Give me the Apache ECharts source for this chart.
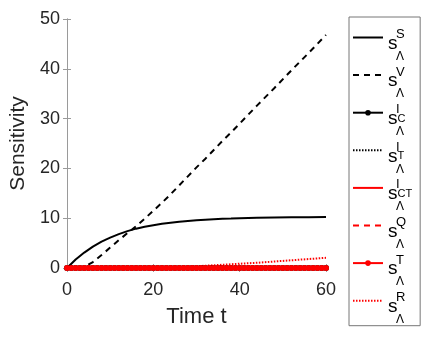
<!DOCTYPE html>
<html>
<head>
<meta charset="utf-8">
<script src="https://cdn.jsdelivr.net/npm/echarts@6/dist/echarts.min.js"></script>
<style>
  html, body { margin: 0; padding: 0; background: #fff; }
  #chart { width: 436px; height: 340px; }
</style>
</head>
<body>
<div id="chart"></div>
<script>
// time grid for the smooth curves
const tCoarse = [0, 2, 4, 6, 8, 10, 12, 14, 16, 18, 20, 22, 24, 26, 28, 30, 32, 34, 36, 38, 40, 44, 48, 52, 56, 60]
const sS = [0, 1.7, 3.1, 4.3, 5.3, 6.1, 6.8, 7.4, 7.9, 8.3, 8.6, 8.9, 9.1, 9.3, 9.45, 9.6, 9.7, 9.8, 9.87, 9.93, 10.0, 10.08, 10.14, 10.18, 10.21, 10.23]
const sV = [0, 0, 0.2, 1.2, 2.6, 4.1, 5.6, 7.0, 8.4, 9.9, 11.5, 13.1, 14.8, 16.6, 18.4, 20.2, 21.9, 23.7, 25.5, 27.2, 29.0, 32.6, 36.1, 39.7, 43.2, 46.8]
const sR = [0, 0, 0, 0, 0, 0, 0, 0, 0, 0, 0.03, 0.06, 0.1, 0.15, 0.25, 0.35, 0.45, 0.55, 0.65, 0.75, 0.86, 1.05, 1.3, 1.55, 1.8, 2.05]
// time grid for the marker series (one marker per time unit)
const tFine = [0, 1, 2, 3, 4, 5, 6, 7, 8, 9, 10, 11, 12, 13, 14, 15, 16, 17, 18, 19, 20, 21, 22, 23, 24, 25, 26, 27, 28, 29, 30, 31, 32, 33, 34, 35, 36, 37, 38, 39, 40, 41, 42, 43, 44, 45, 46, 47, 48, 49, 50, 51, 52, 53, 54, 55, 56, 57, 58, 59, 60]
const zeros = [0, 0, 0, 0, 0, 0, 0, 0, 0, 0, 0, 0, 0, 0, 0, 0, 0, 0, 0, 0, 0, 0, 0, 0, 0, 0, 0, 0, 0, 0, 0, 0, 0, 0, 0, 0, 0, 0, 0, 0, 0, 0, 0, 0, 0, 0, 0, 0, 0, 0, 0, 0, 0, 0, 0, 0, 0, 0, 0, 0, 0]
const xTicks = [0, 20, 40, 60]
const yTicks = [0, 10, 20, 30, 40, 50]
// legend labels: superscript, small letters next to s
const labels = {
  sS: ['S', ''],
  sV: ['V', ''],
  sIC: ['I', 'C'],
  sIT: ['I', 'T'],
  sICT: ['I', 'CT'],
  sQ: ['Q', ''],
  sT: ['T', ''],
  sR: ['R', '']
}
const withMarker = ['sIC', 'sT']

const pairs = (xs, ys) => xs.map((x, i) => [x, ys[i]])

const chart = echarts.init(document.getElementById('chart'))
const font = 'Liberation Sans, Arial, Helvetica, sans-serif'
const axisGray = '#9a9a9a'

const xBase = {
  type: 'value', min: 0, max: 60, interval: 20,
  axisLine: { show: true, lineStyle: { color: axisGray } },
  axisTick: { show: true, inside: true, length: 4, lineStyle: { color: axisGray } },
  splitLine: { show: false }
}
const yBase = {
  type: 'value', min: 0, max: 50, interval: 10,
  axisLine: { show: true, lineStyle: { color: axisGray } },
  axisTick: { show: true, inside: true, length: 4, lineStyle: { color: axisGray } },
  splitLine: { show: false }
}

function line(name, data, color, type, width, marker) {
  return {
    name: name,
    type: 'line',
    data: data,
    symbol: marker ? 'circle' : 'none',
    symbolSize: 6,
    showSymbol: !!marker,
    lineStyle: { color: color, type: type, width: width },
    itemStyle: { color: color }
  }
}

let option = {
  animation: false,
  grid: { left: 67, right: 110, top: 19, bottom: 72 },
  xAxis: [
    Object.assign({}, xBase, {
      position: 'bottom',
      name: 'Time t', nameLocation: 'middle', nameGap: 38,
      nameTextStyle: { fontFamily: font, fontSize: 22, color: '#262626' },
      axisLabel: { fontFamily: font, fontSize: 18, color: '#262626', margin: 13,
        customValues: xTicks }
    }),
    Object.assign({}, xBase, { position: 'top', axisLabel: { show: false } })
  ],
  yAxis: [
    Object.assign({}, yBase, {
      position: 'left',
      name: 'Sensitivity', nameLocation: 'middle', nameGap: 38,
      nameTextStyle: { fontFamily: font, fontSize: 21, color: '#262626' },
      axisLabel: { fontFamily: font, fontSize: 18, color: '#262626', margin: 7,
        customValues: yTicks }
    }),
    Object.assign({}, yBase, { position: 'right', axisLabel: { show: false } })
  ],
  legend: {
    orient: 'vertical',
    left: 349,
    top: 17,
    padding: [1, 8, 0, 3],
    itemWidth: 30,
    itemHeight: 7,
    itemGap: -6.9,
    borderColor: '#777',
    borderWidth: 1,
    borderRadius: 0,
    data: Object.keys(labels).map(function (n) {
      // lines without markers get no symbol in the legend
      return withMarker.includes(n) ? { name: n } : { name: n, itemStyle: { opacity: 0 } }
    }),
    formatter: function (name) {
      const l = labels[name]
      let mid = l[1] ? '{mid|' + l[1] + '}' : ''
      return '{pad| }\n{sup|' + l[0] + '}\n{s|s}' + mid + '\n{sub|Λ}'
    },
    textStyle: {
      fontFamily: font,
      color: '#000',
      rich: {
        pad: { fontSize: 6, lineHeight: 20 },
        sup: { fontFamily: font, fontSize: 13, lineHeight: 7, padding: [0, 0, 0, 8], color: '#000' },
        s: { fontFamily: font, fontSize: 19, lineHeight: 11, color: '#000' },
        mid: { fontFamily: font, fontSize: 11, lineHeight: 11, color: '#000' },
        sub: { fontFamily: font, fontSize: 12, lineHeight: 15, padding: [0, 0, 0, 8], color: '#000' }
      }
    }
  },
  series: [
    line('sS', pairs(tCoarse, sS), '#000', 'solid', 2),
    line('sV', pairs(tCoarse, sV), '#000', [6, 5], 2),
    line('sIC', pairs(tFine, zeros), '#000', 'solid', 2, true),
    line('sIT', pairs(tFine, zeros), '#000', [1.5, 1.5], 2),
    line('sICT', pairs(tFine, zeros), '#ff0000', 'solid', 2),
    line('sQ', pairs(tFine, zeros), '#ff0000', [6, 5], 2),
    line('sT', pairs(tFine, zeros), '#ff0000', 'solid', 2, true),
    line('sR', pairs(tCoarse, sR), '#ff0000', [1.5, 1.5], 2),
    // thin bluish dashes seen along the zero line
    line('zeroDash', pairs(xTicks, [0, 0, 0, 0]), '#7a6ad0', [6, 4.5], 1)
  ]
}
chart.setOption(option)
</script>
</body>
</html>
